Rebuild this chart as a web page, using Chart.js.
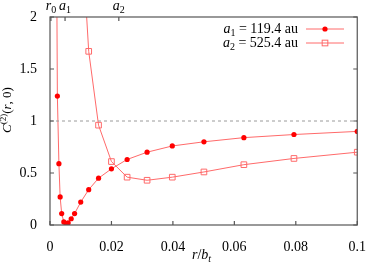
<!DOCTYPE html>
<html>
<head>
<meta charset="UTF-8">
<title>C2 correlation</title>
<script src="https://cdn.jsdelivr.net/npm/chart.js"></script>
<style>
  body { margin: 0; background: #fff; }
  canvas { display: block; }
</style>
</head>
<body>
<canvas id="c" width="372" height="268"></canvas>
<script>
// series a1 = 119.4 au (filled circles)
const xA1 = [0.0021, 0.0024, 0.0029, 0.0033, 0.0038, 0.0045, 0.0052, 0.0059, 0.0069, 0.0080, 0.0100, 0.0126, 0.0158, 0.0200, 0.0251, 0.0316, 0.0398, 0.0501, 0.0631, 0.0794, 0.1];
const yA1 = [2.9, 1.24, 0.59, 0.27, 0.11, 0.03, 0.01, 0.02, 0.06, 0.11, 0.22, 0.34, 0.45, 0.54, 0.63, 0.70, 0.76, 0.80, 0.84, 0.87, 0.90];
// series a2 = 525.4 au (open squares)
const xA2 = [0.0100, 0.0126, 0.0158, 0.0200, 0.0251, 0.0316, 0.0398, 0.0501, 0.0631, 0.0794, 0.1];
const yA2 = [2.95, 1.67, 0.96, 0.61, 0.46, 0.43, 0.46, 0.51, 0.58, 0.64, 0.70];
// reference line C = 1
const xRef = [0, 0.1];
const yRef = [1, 1];
// top axis marks
const topTicks = [0.0003, 0.0049, 0.0224];
const topNames = ['r', 'a', 'a'];
const topSubs = ['0', '1', '2'];

const serif = '"Liberation Serif", serif';
const pts = (xs, ys) => xs.map((x, i) => ({ x: x, y: ys[i] }));

// frame, inward ticks, axis titles and legend
const extras = {
  id: 'extras',
  afterDraw(chart) {
    const { ctx, chartArea: a, scales } = chart;
    ctx.save();
    ctx.strokeStyle = '#555';
    ctx.lineWidth = 1.2;
    ctx.strokeRect(a.left, a.top, a.width, a.height);
    ctx.beginPath();
    scales.y.ticks.forEach(t => {
      const p = scales.y.getPixelForValue(t.value);
      ctx.moveTo(a.left, p); ctx.lineTo(a.left + 4, p);
      ctx.moveTo(a.right, p); ctx.lineTo(a.right - 4, p);
    });
    scales.x.ticks.forEach(t => {
      const p = scales.x.getPixelForValue(t.value);
      ctx.moveTo(p, a.bottom); ctx.lineTo(p, a.bottom - 4);
    });
    topTicks.forEach(v => {
      const p = scales.x2.getPixelForValue(v);
      ctx.moveTo(p, a.top); ctx.lineTo(p, a.top + 4);
    });
    ctx.stroke();

    ctx.fillStyle = '#000';
    ctx.textBaseline = 'alphabetic';
    let x, y;
    const seg = (txt, font, dy) => { ctx.font = font; ctx.fillText(txt, x, y + dy); x += ctx.measureText(txt).width; };
    const segW = (parts) => parts.reduce((w, p) => { ctx.font = p[1]; return w + ctx.measureText(p[0]).width; }, 0);

    // top axis labels r0, a1, a2
    topTicks.forEach((v, i) => {
      const parts = [[topNames[i], 'italic 14px ' + serif], [topSubs[i], '10px ' + serif]];
      x = scales.x2.getPixelForValue(v) - segW(parts) / 2;
      y = 10;
      seg(parts[0][0], parts[0][1], 0);
      seg(parts[1][0], parts[1][1], 3);
    });

    // x title r/b_t
    x = 192; y = 259;
    seg('r', 'italic 14px ' + serif, 0);
    seg('/', '14px ' + serif, 0);
    seg('b', 'italic 14px ' + serif, 0);
    seg('t', 'italic 10px ' + serif, 3);

    // y title C^(2)(r,0)
    ctx.save();
    ctx.translate(11, 133);
    ctx.rotate(-Math.PI / 2);
    x = 0; y = 0;
    seg('C', 'italic 13px ' + serif, 0);
    seg('(2)', '9px ' + serif, -5);
    seg('(', '13px ' + serif, 0);
    seg('r', 'italic 13px ' + serif, 0);
    seg(', 0)', '13px ' + serif, 0);
    ctx.restore();

    // legend
    const rows = [
      { sub: '1', val: ' = 119.4 au', ds: chart.data.datasets[1], y: 29 },
      { sub: '2', val: ' = 525.4 au', ds: chart.data.datasets[2], y: 43 }
    ];
    rows.forEach(r => {
      const parts = [['a', 'italic 14px ' + serif], [r.sub, '10px ' + serif], [r.val, '14px ' + serif]];
      x = 298 - segW(parts);
      y = r.y + 4;
      ctx.fillStyle = '#000';
      seg(parts[0][0], parts[0][1], 0);
      seg(parts[1][0], parts[1][1], 3);
      seg(parts[2][0], parts[2][1], 0);

      ctx.strokeStyle = r.ds.borderColor;
      ctx.lineWidth = 1;
      ctx.beginPath();
      ctx.moveTo(306, r.y); ctx.lineTo(344, r.y);
      ctx.stroke();
      if (r.ds.pointStyle === 'circle') {
        ctx.fillStyle = r.ds.pointBackgroundColor;
        ctx.beginPath();
        ctx.arc(325, r.y, r.ds.pointRadius, 0, Math.PI * 2);
        ctx.fill();
      } else {
        const s = r.ds.pointRadius * Math.SQRT1_2;
        ctx.strokeStyle = r.ds.pointBorderColor;
        ctx.strokeRect(325 - s, r.y - s, 2 * s, 2 * s);
      }
    });
    ctx.restore();
  }
};

new Chart(document.getElementById('c'), {
  type: 'scatter',
  data: {
    datasets: [
      {
        data: pts(xRef, yRef),
        showLine: true,
        borderColor: '#9a9a9a',
        borderWidth: 1,
        borderDash: [3, 3],
        pointRadius: 0
      },
      {
        data: pts(xA1, yA1),
        showLine: true,
        borderColor: '#ff6a6a',
        borderWidth: 1,
        pointStyle: 'circle',
        pointRadius: 2.6,
        pointBackgroundColor: '#ff0000',
        pointBorderColor: '#ff0000',
        pointBorderWidth: 0
      },
      {
        data: pts(xA2, yA2),
        showLine: true,
        borderColor: '#ff6a6a',
        borderWidth: 1,
        pointStyle: 'rect',
        pointRadius: 4,
        pointBackgroundColor: 'rgba(0,0,0,0)',
        pointBorderColor: '#ff6a6a',
        pointBorderWidth: 1
      }
    ]
  },
  options: {
    responsive: false,
    animation: false,
    layout: { padding: { left: 0, right: 12, top: 0, bottom: 0 } },
    plugins: { legend: { display: false }, tooltip: { enabled: false } },
    scales: {
      x: {
        type: 'linear', min: 0, max: 0.1,
        afterFit: s => { s.height = 43; },
        grid: { display: false },
        border: { display: false },
        ticks: {
          stepSize: 0.02, padding: 6, color: '#000', maxRotation: 0,
          font: { family: serif, size: 14 },
          callback: v => String(+v.toFixed(2))
        }
      },
      x2: {
        type: 'linear', position: 'top', min: 0, max: 0.1,
        afterFit: s => { s.height = 17; },
        grid: { display: false },
        border: { display: false },
        ticks: { display: false }
      },
      y: {
        min: 0, max: 2,
        afterFit: s => { s.width = 50; },
        grid: { display: false },
        border: { display: false },
        ticks: {
          stepSize: 0.5, padding: 5, color: '#000',
          font: { family: serif, size: 14 },
          callback: v => String(v)
        }
      }
    }
  },
  plugins: [extras]
});
</script>
</body>
</html>
